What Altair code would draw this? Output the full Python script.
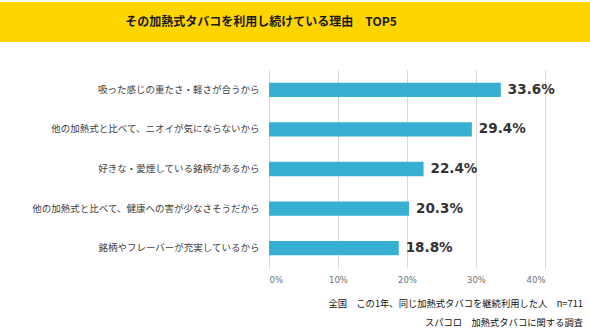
import altair as alt
import pandas as pd

reasons = [
    "吸った感じの重たさ・軽さが合うから",
    "他の加熱式と比べて、ニオイが気にならないから",
    "好きな・愛煙している銘柄があるから",
    "他の加熱式と比べて、健康への害が少なさそうだから",
    "銘柄やフレーバーが充実しているから",
]
values = [33.6, 29.4, 22.4, 20.3, 18.8]
title_text = "その加熱式タバコを利用し続けている理由　TOP5"
notes = ["全国　この1年、同じ加熱式タバコを継続利用した人　n=711", "スパコロ　加熱式タバコに関する調査"]

df = pd.DataFrame({"reason": reasons, "value": [v / 100 for v in values]})
df["label"] = [f"{v:.1f}%" for v in values]

JP = "Noto Sans CJK JP"
W, H = 276, 198
PL, PT = 269, 70

yenc = alt.Y("reason:N", sort=reasons, title=None,
             scale=alt.Scale(paddingInner=0.64, paddingOuter=0.32),
             axis=alt.Axis(labelFont=JP, labelFontSize=9.5, labelColor="#404040",
                           labelPadding=10, ticks=False, domain=False, labelLimit=260))
xenc = alt.X("value:Q", title=None,
             scale=alt.Scale(domain=[0, 0.4], nice=False),
             axis=alt.Axis(format=".0%", values=[0, 0.1, 0.2, 0.3, 0.4], labelFont="DejaVu Sans",
                           labelFontSize=8.5, labelColor="#707070", labelPadding=7,
                           ticks=False, domain=False, grid=True, gridColor="#d9d9d9"))

bars = alt.Chart(df).mark_bar(color="#36AFD3").encode(x=xenc, y=yenc)
labels = alt.Chart(df).mark_text(align="left", dx=7, font="DejaVu Sans", fontWeight="bold",
                                 fontSize=13.5, color="#333333").encode(
    x="value:Q", y=alt.Y("reason:N", sort=reasons), text="label:N")

banner = alt.Chart(pd.DataFrame({"t": [title_text]})).mark_rect(color="#FFD500").encode(
    x=alt.value(-PL), x2=alt.value(590 - PL), y=alt.value(2 - PT), y2=alt.value(42 - PT))
title = alt.Chart(pd.DataFrame({"t": [title_text]})).mark_text(
    font=JP, fontWeight="bold", fontSize=12, color="#1a1a1a", align="center", baseline="middle"
).encode(x=alt.value(261 - PL), y=alt.value(22 - PT), text="t:N")

note_df = pd.DataFrame({"t": notes, "yy": [304 - PT, 323 - PT]})
note = alt.Chart(note_df).mark_text(font=JP, fontSize=9.3, color="#111111", align="right",
                                    baseline="middle").encode(
    x=alt.value(583 - PL), y=alt.Y("yy:Q", scale=None), text="t:N")

chart = alt.layer(banner, title, bars, labels, note).properties(
    width=W, height=H,
    autosize=alt.AutoSizeParams(type="none"),
    padding={"left": PL, "top": PT, "right": 590 - PL - W, "bottom": 333 - PT - H},
    background="white",
).configure_view(stroke=None)

chart.save("out.html", embed_options={"renderer": "svg", "actions": False})
